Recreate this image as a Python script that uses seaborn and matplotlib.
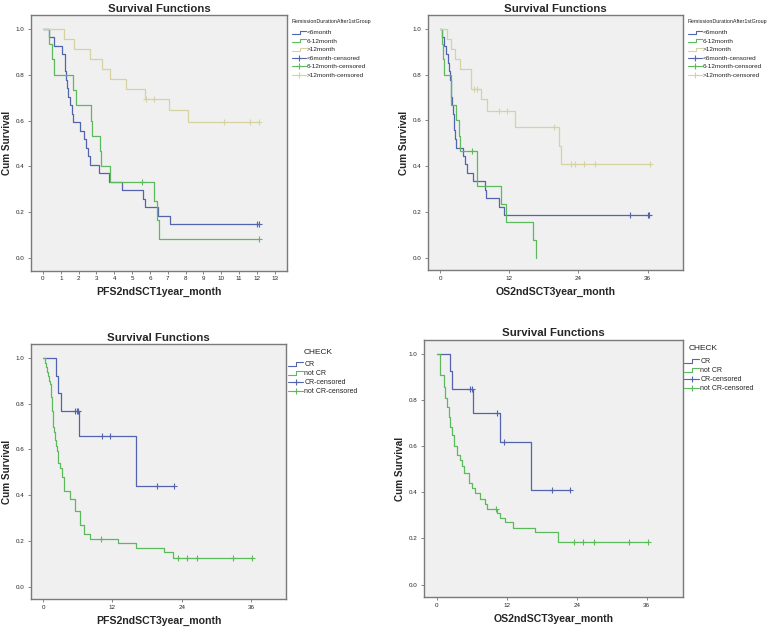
import matplotlib
matplotlib.use("Agg")
import matplotlib.pyplot as plt
import pandas as pd
import seaborn as sns
from matplotlib.lines import Line2D
from matplotlib.legend_handler import HandlerBase

# ---- data (time in months, cumulative survival) ----
# top-left: PFS2ndSCT1year_month by RemissionDurationAfter1stGroup
pfs1_lt6_t = [0.36, 0.64, 1.05, 1.22, 1.25, 1.31, 1.35, 1.40, 1.54, 1.61, 1.70, 2.06,
              2.32, 2.42, 2.51, 2.62, 3.15, 3.71, 4.46, 5.64, 5.75, 6.44, 7.15]
pfs1_lt6_s = [0.963, 0.926, 0.889, 0.852, 0.815, 0.778, 0.741, 0.704, 0.667, 0.630, 0.593, 0.556,
              0.519, 0.481, 0.444, 0.407, 0.370, 0.333, 0.296, 0.259, 0.222, 0.185, 0.148]
pfs1_lt6_ct = [12.0, 12.13]
pfs1_lt6_cs = [0.148, 0.148]
pfs1_mid_t = [0.36, 0.51, 0.64, 1.69, 1.87, 2.72, 2.77, 3.22, 3.24, 3.75, 6.25, 6.39, 6.50]
pfs1_mid_s = [0.933, 0.867, 0.800, 0.733, 0.667, 0.600, 0.533, 0.467, 0.400, 0.333, 0.250, 0.167, 0.083]
pfs1_mid_ct = [5.54, 12.13]
pfs1_mid_cs = [0.333, 0.083]
pfs1_gt12_t = [1.20, 1.76, 2.66, 3.31, 3.78, 4.64, 5.73, 7.10, 8.16]
pfs1_gt12_s = [0.957, 0.913, 0.870, 0.826, 0.783, 0.739, 0.696, 0.646, 0.596]
pfs1_gt12_ct = [5.80, 6.22, 10.15, 11.59, 12.13]
pfs1_gt12_cs = [0.696, 0.696, 0.596, 0.596, 0.596]

# top-right: OS2ndSCT3year_month by RemissionDurationAfter1stGroup
os3_lt6_t = [0.40, 0.69, 1.10, 1.38, 1.56, 1.73, 1.85, 1.96, 2.08, 2.25, 2.37, 2.48, 2.60, 2.77,
             3.92, 4.39, 4.62, 5.65, 7.85, 7.90, 10.3, 11.1]
os3_lt6_s = [0.963, 0.926, 0.889, 0.852, 0.815, 0.778, 0.741, 0.704, 0.667, 0.630, 0.593, 0.556,
             0.519, 0.481, 0.444, 0.407, 0.370, 0.333, 0.296, 0.259, 0.222, 0.185]
os3_lt6_ct = [32.9, 36.0, 36.3]
os3_lt6_cs = [0.185, 0.185, 0.185]
os3_mid_t = [0.30, 0.45, 0.69, 1.84, 1.96, 2.77, 3.29, 3.46, 6.34, 6.46, 10.6, 11.47, 16.14, 16.66]
os3_mid_s = [0.933, 0.867, 0.800, 0.733, 0.667, 0.600, 0.533, 0.467, 0.389, 0.311, 0.233, 0.156, 0.078, 0.0]
os3_mid_ct = [5.59]
os3_mid_cs = [0.467]
os3_gt12_t = [1.21, 1.85, 2.65, 3.40, 5.40, 5.42, 7.16, 8.19, 13.04, 20.7, 21.0]
os3_gt12_s = [0.957, 0.913, 0.870, 0.826, 0.783, 0.739, 0.693, 0.643, 0.572, 0.490, 0.408]
os3_gt12_ct = [5.89, 6.35, 10.2, 11.66, 19.85, 22.7, 23.4, 25.0, 26.9, 36.4]
os3_gt12_cs = [0.739, 0.739, 0.643, 0.643, 0.572, 0.408, 0.408, 0.408, 0.408, 0.408]

# bottom-left: PFS2ndSCT3year_month by CHECK
pfs3_cr_t = [2.29, 2.64, 3.16, 6.25, 16.06]
pfs3_cr_s = [0.923, 0.846, 0.769, 0.659, 0.440]
pfs3_cr_ct = [5.57, 5.85, 6.10, 10.15, 11.6, 19.7, 22.6]
pfs3_cr_cs = [0.769, 0.769, 0.769, 0.659, 0.659, 0.440, 0.440]
pfs3_ncr_t = [0.3, 0.5, 0.7, 0.8, 1.0, 1.15, 1.3, 1.4, 1.5, 1.6, 1.7, 1.8, 1.95, 2.1, 2.3,
              2.45, 2.65, 3.0, 3.2, 3.6, 4.6, 5.6, 6.4, 7.0, 8.1, 12.9, 16.1, 20.9, 22.5]
pfs3_ncr_s = [0.98, 0.96, 0.94, 0.92, 0.90, 0.885, 0.865, 0.83, 0.80, 0.77, 0.73, 0.70, 0.675, 0.64, 0.615,
              0.595, 0.54, 0.52, 0.48, 0.42, 0.385, 0.33, 0.27, 0.23, 0.21, 0.19, 0.17, 0.15, 0.125]
pfs3_ncr_ct = [10.1, 23.3, 24.9, 26.7, 32.8, 36.1]
pfs3_ncr_cs = [0.21, 0.125, 0.125, 0.125, 0.125, 0.125]

# bottom-right: OS2ndSCT3year_month by CHECK
os3_cr_t = [2.23, 2.57, 6.23, 10.9, 16.17]
os3_cr_s = [0.923, 0.846, 0.741, 0.617, 0.411]
os3_cr_ct = [5.66, 6.05, 10.23, 11.5, 19.8, 22.8]
os3_cr_cs = [0.846, 0.846, 0.741, 0.617, 0.411, 0.411]
os3_ncr_t = [0.46, 0.57, 1.14, 1.43, 1.71, 2.0, 2.29, 2.57, 2.86, 3.43, 3.89, 4.29, 4.57, 5.43,
             6.0, 6.57, 7.43, 8.29, 8.57, 10.29, 10.86, 11.71, 13.14, 16.86, 20.86]
os3_ncr_s = [0.957, 0.907, 0.857, 0.81, 0.77, 0.727, 0.684, 0.648, 0.598, 0.562, 0.541, 0.512, 0.481, 0.44,
             0.419, 0.397, 0.369, 0.347, 0.326, 0.308, 0.29, 0.271, 0.247, 0.228, 0.185]
os3_ncr_ct = [10.17, 23.5, 25.1, 27.0, 33.0, 36.3]
os3_ncr_cs = [0.326, 0.185, 0.185, 0.185, 0.185, 0.185]

group_labels = ["<6month", "6-12month", ">12month"]
check_labels = ["CR", "not CR"]

BLUE = "#5363AE"
GREEN = "#5CBA5C"
TAN = "#D6D2A2"
BG = "#F0F0F0"

sns.set_style("white")
plt.rcParams["font.family"] = ["Liberation Sans", "DejaVu Sans"]


class StepHandler(HandlerBase):
    # little step glyph used by SPSS for the survival lines
    def create_artists(self, legend, orig_handle, xdescent, ydescent, width, height, fontsize, trans):
        x0, y0 = -xdescent, -ydescent
        xs = [x0, x0 + width * 0.55, x0 + width * 0.55, x0 + width]
        ys = [y0 + height * 0.1, y0 + height * 0.1, y0 + height * 0.8, y0 + height * 0.8]
        ln = Line2D(xs, ys, color=orig_handle.get_color(), lw=0.8, transform=trans)
        return [ln]


def draw_km(ax, t, s, ct, cs, color):
    tt = [0] + list(t)
    ss = [1.0] + list(s)
    if ct and max(ct) > tt[-1]:
        tt.append(max(ct))
        ss.append(ss[-1])
    df = pd.DataFrame({"t": tt, "s": ss})
    sns.lineplot(data=df, x="t", y="s", ax=ax, color=color, lw=0.9,
                 drawstyle="steps-post", estimator=None, sort=False)
    if ct:
        cdf = pd.DataFrame({"t": ct, "s": cs})
        sns.scatterplot(data=cdf, x="t", y="s", ax=ax, color=color, marker="+",
                        s=22, linewidth=0.8, zorder=3)


def style_ax(ax, xlim, xticks, xlabel):
    ax.set_facecolor(BG)
    ax.set_xlim(*xlim)
    ax.set_ylim(-0.055, 1.06)
    ax.set_xticks(xticks)
    ax.set_yticks([0.0, 0.2, 0.4, 0.6, 0.8, 1.0])
    ax.set_yticklabels(["0.0", "0.2", "0.4", "0.6", "0.8", "1.0"])
    ax.tick_params(axis="both", labelsize=4.5, length=2, width=0.5, color="#555555",
                   direction="out", bottom=True, left=True)
    ax.tick_params(axis="y", pad=3)
    ax.tick_params(axis="x", pad=2)
    for sp in ax.spines.values():
        sp.set_color("#7A7A7A")
        sp.set_linewidth(1.0)
    ax.set_title("Survival Functions", fontsize=8.2, fontweight="bold", pad=2.5)
    ax.set_xlabel(xlabel, fontsize=7.6, fontweight="bold")
    ax.set_ylabel("Cum Survival", fontsize=7.2, fontweight="bold")
    ax.xaxis.set_label_coords(0.5, -0.065)
    ax.yaxis.set_label_coords(-0.075, 0.5)


fig = plt.figure(figsize=(7.74, 6.34), dpi=100)
fig.patch.set_facecolor("white")
ax1 = fig.add_axes([0.040, 0.573, 0.331, 0.403])
ax2 = fig.add_axes([0.553, 0.574, 0.329, 0.402])
ax3 = fig.add_axes([0.040, 0.055, 0.330, 0.402])
ax4 = fig.add_axes([0.548, 0.058, 0.334, 0.406])

draw_km(ax1, pfs1_lt6_t, pfs1_lt6_s, pfs1_lt6_ct, pfs1_lt6_cs, BLUE)
draw_km(ax1, pfs1_mid_t, pfs1_mid_s, pfs1_mid_ct, pfs1_mid_cs, GREEN)
draw_km(ax1, pfs1_gt12_t, pfs1_gt12_s, pfs1_gt12_ct, pfs1_gt12_cs, TAN)
style_ax(ax1, (-0.67, 13.7), list(range(0, 14)), "PFS2ndSCT1year_month")

draw_km(ax2, os3_lt6_t, os3_lt6_s, os3_lt6_ct, os3_lt6_cs, BLUE)
draw_km(ax2, os3_mid_t, os3_mid_s, os3_mid_ct, os3_mid_cs, GREEN)
draw_km(ax2, os3_gt12_t, os3_gt12_s, os3_gt12_ct, os3_gt12_cs, TAN)
style_ax(ax2, (-2.1, 42.1), [0, 12, 24, 36], "OS2ndSCT3year_month")

draw_km(ax3, pfs3_cr_t, pfs3_cr_s, pfs3_cr_ct, pfs3_cr_cs, BLUE)
draw_km(ax3, pfs3_ncr_t, pfs3_ncr_s, pfs3_ncr_ct, pfs3_ncr_cs, GREEN)
style_ax(ax3, (-2.1, 42.1), [0, 12, 24, 36], "PFS2ndSCT3year_month")

draw_km(ax4, os3_cr_t, os3_cr_s, os3_cr_ct, os3_cr_cs, BLUE)
draw_km(ax4, os3_ncr_t, os3_ncr_s, os3_ncr_ct, os3_ncr_cs, GREEN)
style_ax(ax4, (-2.2, 42.2), [0, 12, 24, 36], "OS2ndSCT3year_month")


def add_legend(x, y, colors, labels, fsize, spacing):
    handles = [Line2D([], [], color=c, lw=0.8) for c in colors]
    cens = [Line2D([], [], color=c, lw=0.8, marker="+", markersize=5, markeredgewidth=0.8)
            for c in colors]
    names = list(labels) + [lab + "-censored" for lab in labels]
    hmap = {h: StepHandler() for h in handles}
    leg = fig.legend(handles + cens, names, loc="upper left",
                     bbox_to_anchor=(x / 774, 1 - y / 634), frameon=False,
                     fontsize=fsize, handlelength=2.2, handletextpad=0.15,
                     labelspacing=spacing, borderpad=0, borderaxespad=0, handler_map=hmap)
    for txt in leg.get_texts():
        txt.set_color("#222222")
    return leg


# legend titles placed as plain text, entries as figure legends
fig.text(292 / 774, 1 - 22 / 634, "RemissionDurationAfter1stGroup", fontsize=3.9,
         color="#222222", ha="left", va="center")
fig.text(688 / 774, 1 - 22 / 634, "RemissionDurationAfter1stGroup", fontsize=3.9,
         color="#222222", ha="left", va="center")
fig.text(318 / 774, 1 - 353 / 634, "CHECK", fontsize=6.0, color="#222222",
         ha="center", va="center")
fig.text(703 / 774, 1 - 348 / 634, "CHECK", fontsize=6.0, color="#222222",
         ha="center", va="center")

add_legend(292, 30, [BLUE, GREEN, TAN], group_labels, 4.6, 0.47)
add_legend(688, 30, [BLUE, GREEN, TAN], group_labels, 4.6, 0.47)
add_legend(288, 361, [BLUE, GREEN], check_labels, 5.0, 0.3)
add_legend(684, 358, [BLUE, GREEN], check_labels, 5.0, 0.3)

fig.savefig("out.png", dpi=100, facecolor="white")
